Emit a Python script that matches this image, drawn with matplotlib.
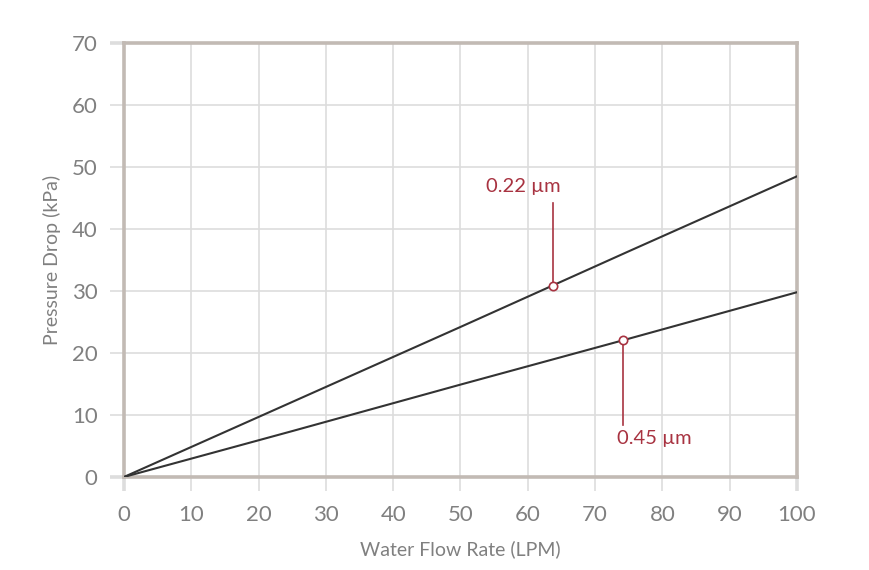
import matplotlib.pyplot as plt

# data
flow = [0, 25, 50, 75, 100]
drop_022 = [0, 12.1, 24.2, 36.4, 48.5]
drop_045 = [0, 7.4, 14.9, 22.3, 29.8]

# annotated points
marks = [
    (63.7, 30.8, "0.22 µm"),
    (74.1, 22.1, "0.45 µm"),
]

x_ticks = list(range(0, 101, 10))
y_ticks = list(range(0, 71, 10))

spine_col = "#c2bab4"
grid_col = "#dddddd"
text_col = "#808080"
red = "#a83341"

plt.rcParams['font.family'] = ['Lato', 'DejaVu Sans']

fig = plt.figure(figsize=(8.7, 5.7), dpi=100)
ax = fig.add_axes([0.1425, 0.1632, 0.7736, 0.7614])

ax.plot(flow, drop_022, color="#333333", lw=1.5, zorder=3)
ax.plot(flow, drop_045, color="#333333", lw=1.5, zorder=3)

# callouts
x, y, lab = marks[0]
ax.plot([x, x], [y, 44.2], color=red, lw=1.2, zorder=4)
ax.text(x - 4.4, 46.8, lab, color=red, fontsize=14.5, ha="center", va="center")
ax.plot(x, y, "o", ms=6, mfc="white", mec=red, mew=1.2, zorder=5)

x, y, lab = marks[1]
ax.plot([x, x], [y, 8.4], color=red, lw=1.2, zorder=4)
ax.text(x - 0.9, 6.2, lab, color=red, fontsize=14.5, ha="left", va="center")
ax.plot(x, y, "o", ms=6, mfc="white", mec=red, mew=1.2, zorder=5)

ax.set_xlim(0, 100)
ax.set_ylim(0, 70)
ax.set_xticks(x_ticks)
ax.set_yticks(y_ticks)
ax.grid(True, color=grid_col, lw=1.2)
ax.set_axisbelow(True)

for s in ax.spines.values():
    s.set_color(spine_col)
    s.set_linewidth(2.6)

ax.tick_params(axis="both", length=10, width=1.2, color=grid_col,
               labelcolor=text_col, labelsize=16)
ax.tick_params(axis="x", pad=10)
ax.tick_params(axis="y", pad=9)

# thick ticks at the frame ends
for t in (ax.xaxis.get_major_ticks()[0], ax.xaxis.get_major_ticks()[-1],
          ax.yaxis.get_major_ticks()[0], ax.yaxis.get_major_ticks()[-1]):
    t.tick1line.set_markeredgewidth(2.6)
    t.tick1line.set_color(spine_col)

ax.set_xlabel("Water Flow Rate (LPM)", color=text_col, fontsize=14, labelpad=11)
ax.set_ylabel("Pressure Drop (kPa)", color=text_col, fontsize=14, labelpad=8)

fig.savefig("out.png", dpi=100)
